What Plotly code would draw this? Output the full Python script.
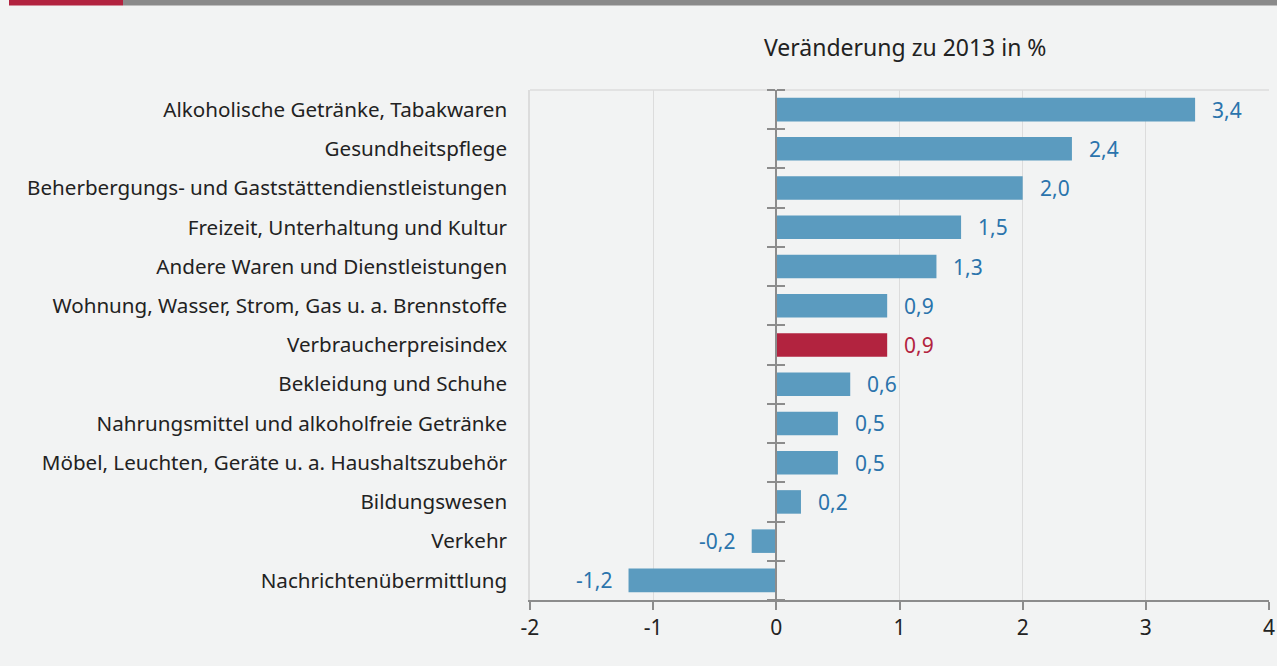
import plotly.graph_objects as go

categories = [
    "Alkoholische Getränke, Tabakwaren",
    "Gesundheitspflege",
    "Beherbergungs- und Gaststättendienstleistungen",
    "Freizeit, Unterhaltung und Kultur",
    "Andere Waren und Dienstleistungen",
    "Wohnung, Wasser, Strom, Gas u. a. Brennstoffe",
    "Verbraucherpreisindex",
    "Bekleidung und Schuhe",
    "Nahrungsmittel und alkoholfreie Getränke",
    "Möbel, Leuchten, Geräte u. a. Haushaltszubehör",
    "Bildungswesen",
    "Verkehr",
    "Nachrichtenübermittlung",
]
values = [3.4, 2.4, 2.0, 1.5, 1.3, 0.9, 0.9, 0.6, 0.5, 0.5, 0.2, -0.2, -1.2]
highlight = "Verbraucherpreisindex"
x_ticks = [-2, -1, 0, 1, 2, 3, 4]
x_ticktext = ["-2", "-1", "0", "1", "2", "3", "4"]
title_text = "Veränderung zu 2013 in %"

BLUE = "#5b9bbf"
RED = "#b2233f"
LABEL_BLUE = "#2b74ac"
BG = "#f2f3f3"
AXIS = "#8c8c8c"
GRID = "#dcdcdc"
FONT = "Noto Sans"
TXT = "#222222"

n = len(categories)
bar_colors = [RED if c == highlight else BLUE for c in categories]

fig = go.Figure()
fig.add_trace(go.Bar(
    x=values, y=categories, orientation="h",
    marker=dict(color=bar_colors, line=dict(width=0)),
    width=0.6, hoverinfo="skip",
))

bounds = [i - 0.5 for i in range(n + 1)]
for ax in ("y2", "y3"):
    fig.add_trace(go.Scatter(x=[0], y=[0], xaxis="x", yaxis=ax, mode="markers",
                             marker=dict(opacity=0), hoverinfo="skip", showlegend=False))

W, H = 1277, 666
L, R, T, B = 530, 8, 90, 66
pw = W - L - R
ph = H - T - B

annotations = []
for c, v in zip(categories, values):
    txt = f"{v:.1f}".replace(".", ",")
    annotations.append(dict(
        x=v, y=c, xref="x", yref="y", text=txt, showarrow=False,
        xanchor="left" if v >= 0 else "right",
        xshift=15 if v >= 0 else -15,
        font=dict(family=FONT, size=21, color=RED if c == highlight else LABEL_BLUE),
    ))

annotations.append(dict(
    x=(905 - L) / pw, y=(H - B - 47) / ph, xref="paper", yref="paper",
    xanchor="center", yanchor="middle",
    text=title_text, showarrow=False,
    font=dict(family=FONT, size=23, color=TXT),
))

zero_pos = (0 - x_ticks[0]) / (x_ticks[-1] - x_ticks[0])

shapes = [
    dict(type="rect", xref="paper", yref="paper",
         x0=(9 - L) / pw, x1=(123 - L) / pw, y0=(H - B - 0) / ph, y1=(H - B - 5.5) / ph,
         fillcolor=RED, line=dict(width=0), layer="above"),
    dict(type="rect", xref="paper", yref="paper",
         x0=(123 - L) / pw, x1=(W - L) / pw, y0=(H - B - 0) / ph, y1=(H - B - 5.5) / ph,
         fillcolor="#8a8a8a", line=dict(width=0), layer="above"),
    dict(type="line", xref="paper", yref="paper", x0=0, x1=1, y0=1, y1=1,
         line=dict(color=GRID, width=1.5), layer="below"),
]

fig.update_layout(
    width=W, height=H, autosize=False,
    margin=dict(l=L, r=R, t=T, b=B, autoexpand=False),
    paper_bgcolor=BG, plot_bgcolor=BG,
    showlegend=False,
    separators=",.",
    font=dict(family=FONT, size=21, color=TXT),
    xaxis=dict(
        range=[x_ticks[0], x_ticks[-1]], tickvals=x_ticks, ticktext=x_ticktext,
        showgrid=True, gridcolor=GRID, gridwidth=1, zeroline=False,
        showline=True, linecolor=AXIS, linewidth=2,
        ticks="outside", ticklen=8, tickcolor=AXIS, tickwidth=1.5,
        tickfont=dict(size=21, color=TXT), automargin=False,
        fixedrange=True,
    ),
    yaxis=dict(
        type="category", categoryarray=categories, range=[n - 0.5, -0.5],
        showgrid=False, zeroline=False, ticks="", showline=True,
        linecolor=GRID, linewidth=1.5, automargin=False,
        tickfont=dict(size=20.6, color=TXT), ticklabelstandoff=17,
        fixedrange=True,
    ),
    yaxis2=dict(
        overlaying="y", anchor="free", position=zero_pos, range=[n - 0.5, -0.5],
        tickvals=bounds, showticklabels=False, showgrid=False, zeroline=False,
        showline=True, linecolor=AXIS, linewidth=2, automargin=False,
        ticks="outside", ticklen=8, tickcolor=AXIS, tickwidth=1.5, fixedrange=True,
    ),
    yaxis3=dict(
        overlaying="y", anchor="free", position=zero_pos, range=[n - 0.5, -0.5],
        tickvals=bounds, showticklabels=False, showgrid=False, zeroline=False,
        showline=False, side="right", automargin=False,
        ticks="outside", ticklen=8, tickcolor=AXIS, tickwidth=1.5, fixedrange=True,
    ),
    annotations=annotations,
    shapes=shapes,
)

post = (
    "document.body.style.margin='0';"
    "document.body.style.overflow='hidden';"
    "document.body.style.background='%s';"
    "Plotly.relayout('{plot_id}', {width: %d, height: %d});" % (BG, W, H)
)
fig.write_html("out.html", config={"displayModeBar": False, "responsive": False},
               post_script=post)
